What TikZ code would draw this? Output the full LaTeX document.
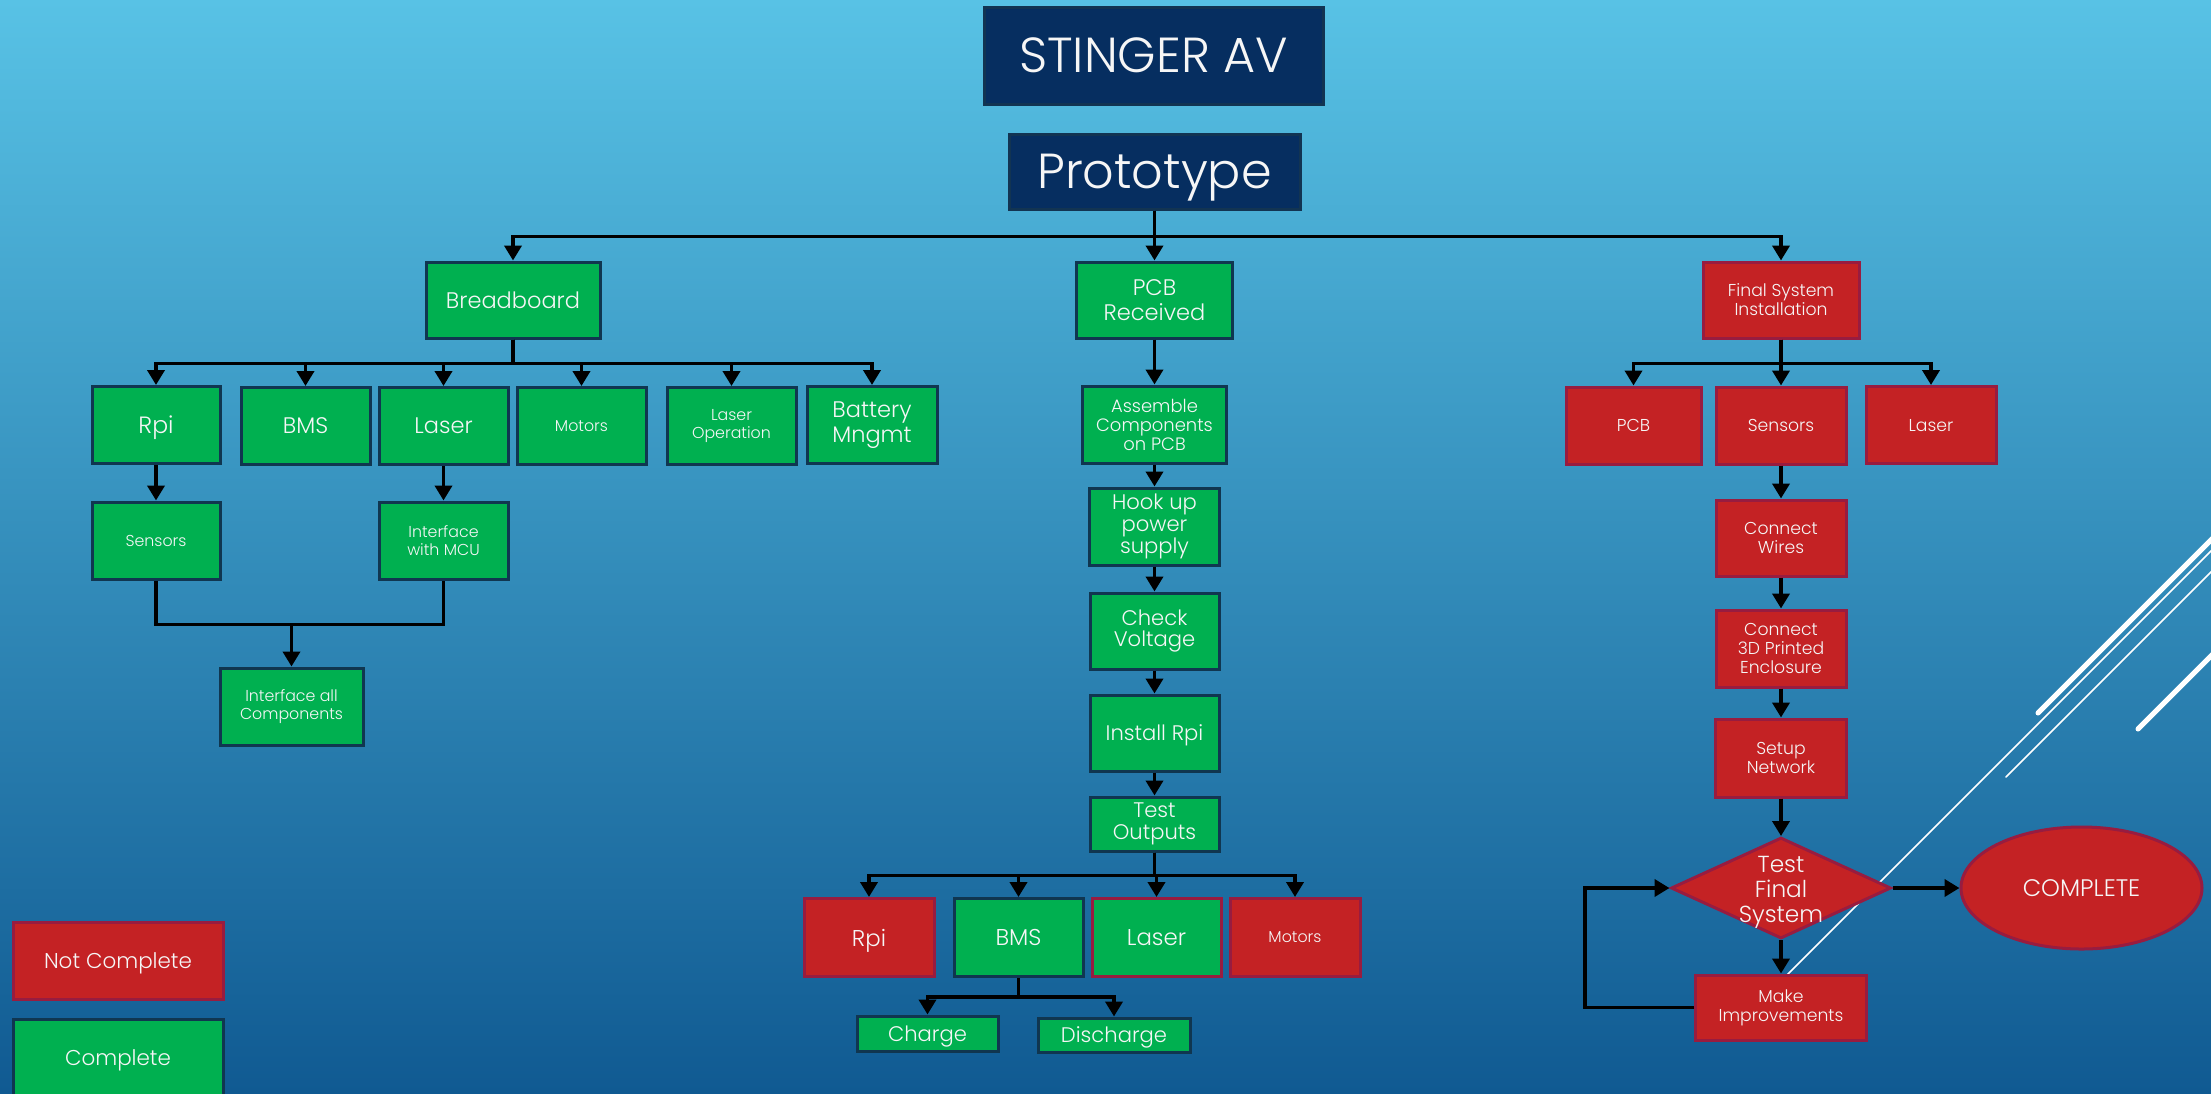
\documentclass[tikz,border=0pt]{standalone}
\usepackage{fontspec}
\setmainfont{Poppins Light}
\usetikzlibrary{arrows.meta,shapes.geometric}
\newdimen\pxu \pxu=0.01cm
\definecolor{bgtop}{RGB}{88,194,229}
\definecolor{bgmid}{RGB}{46,146,196}
\definecolor{bgbot}{RGB}{16,90,146}
\definecolor{navy}{RGB}{6,46,96}
\definecolor{navyb}{RGB}{18,52,82}
\definecolor{grn}{RGB}{0,176,80}
\definecolor{grnb}{RGB}{16,54,80}
\definecolor{rd}{RGB}{196,34,36}
\definecolor{rdb}{RGB}{152,28,64}
\definecolor{txt}{RGB}{246,246,246}
\tikzset{
  sz/.style 2 args={minimum width=#1\pxu, minimum height=#2\pxu},
  base/.style={rectangle, inner sep=0pt, text=txt, align=center, line width=3\pxu},
  sl/.style={text depth=0pt},
  titlebox/.style={base, sl, fill=navy, draw=navyb, font=\fontsize{14}{16}\selectfont},
  gbox/.style={base, fill=grn, draw=grnb},
  rbox/.style={base, fill=rd, draw=rdb},
  gred/.style={base, fill=grn, draw=rdb},
  fA/.style={font=\fontsize{6.4}{7.2}\selectfont},
  fB/.style={font=\fontsize{6.0}{6.2}\selectfont},
  fC/.style={font=\fontsize{4.9}{5.4}\selectfont},
  fD/.style={font=\fontsize{4.5}{5.2}\selectfont},
  arr/.style={draw=black, line width=1.1pt, -{Triangle[length=0.15cm,width=0.17cm]}},
  ln/.style={draw=black, line width=1.1pt},
  deco/.style={draw=white, line cap=round},
}
\begin{document}
\begin{tikzpicture}[x=0.01cm, y=-0.01cm]
\clip (0,0) rectangle (2211,1093);
\useasboundingbox (0,0) rectangle (2211,1093);
% background
\shade[top color=bgtop, middle color=bgmid, bottom color=bgbot] (0,0) rectangle (2211,1093);
% slanted theme lines on the right
\draw[deco, line width=5\pxu] (2038,713) -- ++(320,-320);
\draw[deco, line width=1.5\pxu] (1775,987) -- ++(620,-620);
\draw[deco, line width=1.5\pxu] (2006,777) -- ++(420,-420);
\draw[deco, line width=5\pxu] (2138,729) -- ++(320,-320);

% titles
\node[titlebox, sz={339}{97}] (title) at (1153.5,55.5) {STINGER AV};
\node[titlebox, sz={291}{75}] (proto) at (1154.5,171.5) {Prototype};

% breadboard branch
\node[gbox, sl, fA, sz={174}{76}] (bb) at (513,300) {Breadboard};
\node[gbox, sl, font=\fontsize{6.7}{7.2}\selectfont, sz={128}{77}] (rpiA) at (156,425) {Rpi};
\node[gbox, sl, fA, sz={129}{77}] (bmsA) at (305.5,426) {BMS};
\node[gbox, sl, fA, sz={129}{77}] (lasA) at (443.5,426) {Laser};
\node[gbox, sl, fD, sz={129}{77}] (motA) at (581.5,426) {Motors};
\node[gbox, fD, sz={129}{77}] (lopA) at (731.5,426) {Laser\\Operation};
\node[gbox, fA, sz={130}{77}] (batA) at (872,425) {Battery\\Mngmt};
\node[gbox, sl, fD, sz={128}{77}] (senA) at (156,540.5) {Sensors};
\node[gbox, fD, sz={129}{77}] (mcuA) at (443.5,540.5) {Interface\\with MCU};
\node[gbox, fD, sz={143}{77}] (allA) at (291.5,706.5) {Interface all\\Components};

% PCB branch
\node[gbox, fA, sz={156}{76}] (pcbB) at (1154.5,300) {PCB\\Received};
\node[gbox, font=\fontsize{5.1}{5.4}\selectfont, sz={144}{77}] (asmB) at (1154.5,424.5) {Assemble\\Components\\on PCB};
\node[gbox, fB, sz={130}{77}] (hookB) at (1154.5,526.5) {Hook up\\power\\supply};
\node[gbox, fB, sz={129}{76}] (chkB) at (1154.5,631) {Check\\Voltage};
\node[gbox, sl, fB, sz={129}{76}] (insB) at (1154.5,733) {Install Rpi};
\node[gbox, fB, sz={129}{54}] (tstB) at (1154.5,824) {Test\\Outputs};
\node[rbox, sl, font=\fontsize{6.5}{7}\selectfont, sz={130}{78}] (rpiB) at (869,937.5) {Rpi};
\node[gbox, sl, font=\fontsize{6.5}{7}\selectfont, sz={129}{78}] (bmsB) at (1018.5,937.5) {BMS};
\node[gred, sl, font=\fontsize{6.5}{7}\selectfont, sz={129}{78}] (lasB) at (1156.5,937.5) {Laser};
\node[rbox, sl, fD, sz={130}{78}] (motB) at (1295,937.5) {Motors};
\node[gbox, sl, fB, sz={141}{35}] (chgB) at (927.5,1033.5) {Charge};
\node[gbox, sl, fB, sz={152}{34}] (dchB) at (1114,1035) {Discharge};

% final installation branch
\node[rbox, fC, sz={156}{76}] (finC) at (1781,300) {Final System\\Installation};
\node[rbox, sl, fC, sz={135}{77}] (pcbC) at (1633.5,425.5) {PCB};
\node[rbox, sl, fC, sz={130}{77}] (senC) at (1781,425.5) {Sensors};
\node[rbox, sl, fC, sz={130}{77}] (lasC) at (1931,425) {Laser};
\node[rbox, fC, sz={130}{76}] (wirC) at (1781,538) {Connect\\Wires};
\node[rbox, fC, sz={130}{77}] (encC) at (1781,648.5) {Connect\\3D Printed\\Enclosure};
\node[rbox, fC, sz={131}{78}] (netC) at (1781,758) {Setup\\Network};
\node[rbox, diamond, shape aspect=2.2, sz={220}{101}, font=\fontsize{6.6}{7.1}\selectfont] (tstC) at (1781,888)
  {\smash{\raisebox{-11\pxu}{\begin{tabular}{@{}c@{}}Test\\Final\\System\end{tabular}}}};
\node[rbox, fC, sz={171}{65}] (impC) at (1781,1007.5) {Make\\Improvements};
\node[rbox, sl, ellipse, sz={241}{122}, font=\fontsize{6.8}{7.2}\selectfont] (doneC) at (2081.5,888) {COMPLETE};

% legend
\node[rbox, sl, font=\fontsize{6.1}{6.6}\selectfont, sz={210}{77}] (legR) at (118,960.5) {Not Complete};
\node[gbox, sl, font=\fontsize{6.1}{6.6}\selectfont, sz={210}{77}] (legG) at (118,1057.5) {Complete};

% connectors from the top
\draw[arr] (proto.south) -- (pcbB.north);
\draw[arr] (proto.south) -- ++(0,26) -| (bb.north);
\draw[arr] (proto.south) -- ++(0,26) -| (finC.north);

% breadboard connectors
\foreach \n in {rpiA,bmsA,lasA,motA,lopA,batA}
  \draw[arr] (bb.south) -- ++(0,24) -| (\n.north);
\draw[arr] (rpiA) -- (senA);
\draw[arr] (lasA) -- (mcuA);
\draw[ln] (senA.south) -- ++(0,44) -| (mcuA.south);
\coordinate (mrg) at (291.5,623);
\draw[arr] (mrg) -- (allA.north);

% PCB connectors
\draw[arr] (pcbB) -- (asmB);
\draw[arr] (asmB) -- (hookB);
\draw[arr] (hookB) -- (chkB);
\draw[arr] (chkB) -- (insB);
\draw[arr] (insB) -- (tstB);
\foreach \n in {rpiB,bmsB,lasB,motB}
  \draw[arr] (tstB.south) -- ++(0,23) -| (\n.north);
\foreach \n in {chgB,dchB}
  \draw[arr] (bmsB.south) -- ++(0,19) -| (\n.north);

% final installation connectors
\foreach \n in {pcbC,senC,lasC}
  \draw[arr] (finC.south) -- ++(0,24) -| (\n.north);
\draw[arr] (senC) -- (wirC);
\draw[arr] (wirC) -- (encC);
\draw[arr] (encC) -- (netC);
\draw[arr] (netC) -- (tstC);
\draw[arr] (tstC) -- (impC);
\draw[arr] (tstC.east) -- (doneC.west);
\draw[arr] (impC.west) -- ++(-109,0) |- (tstC.west);
\end{tikzpicture}
\end{document}
